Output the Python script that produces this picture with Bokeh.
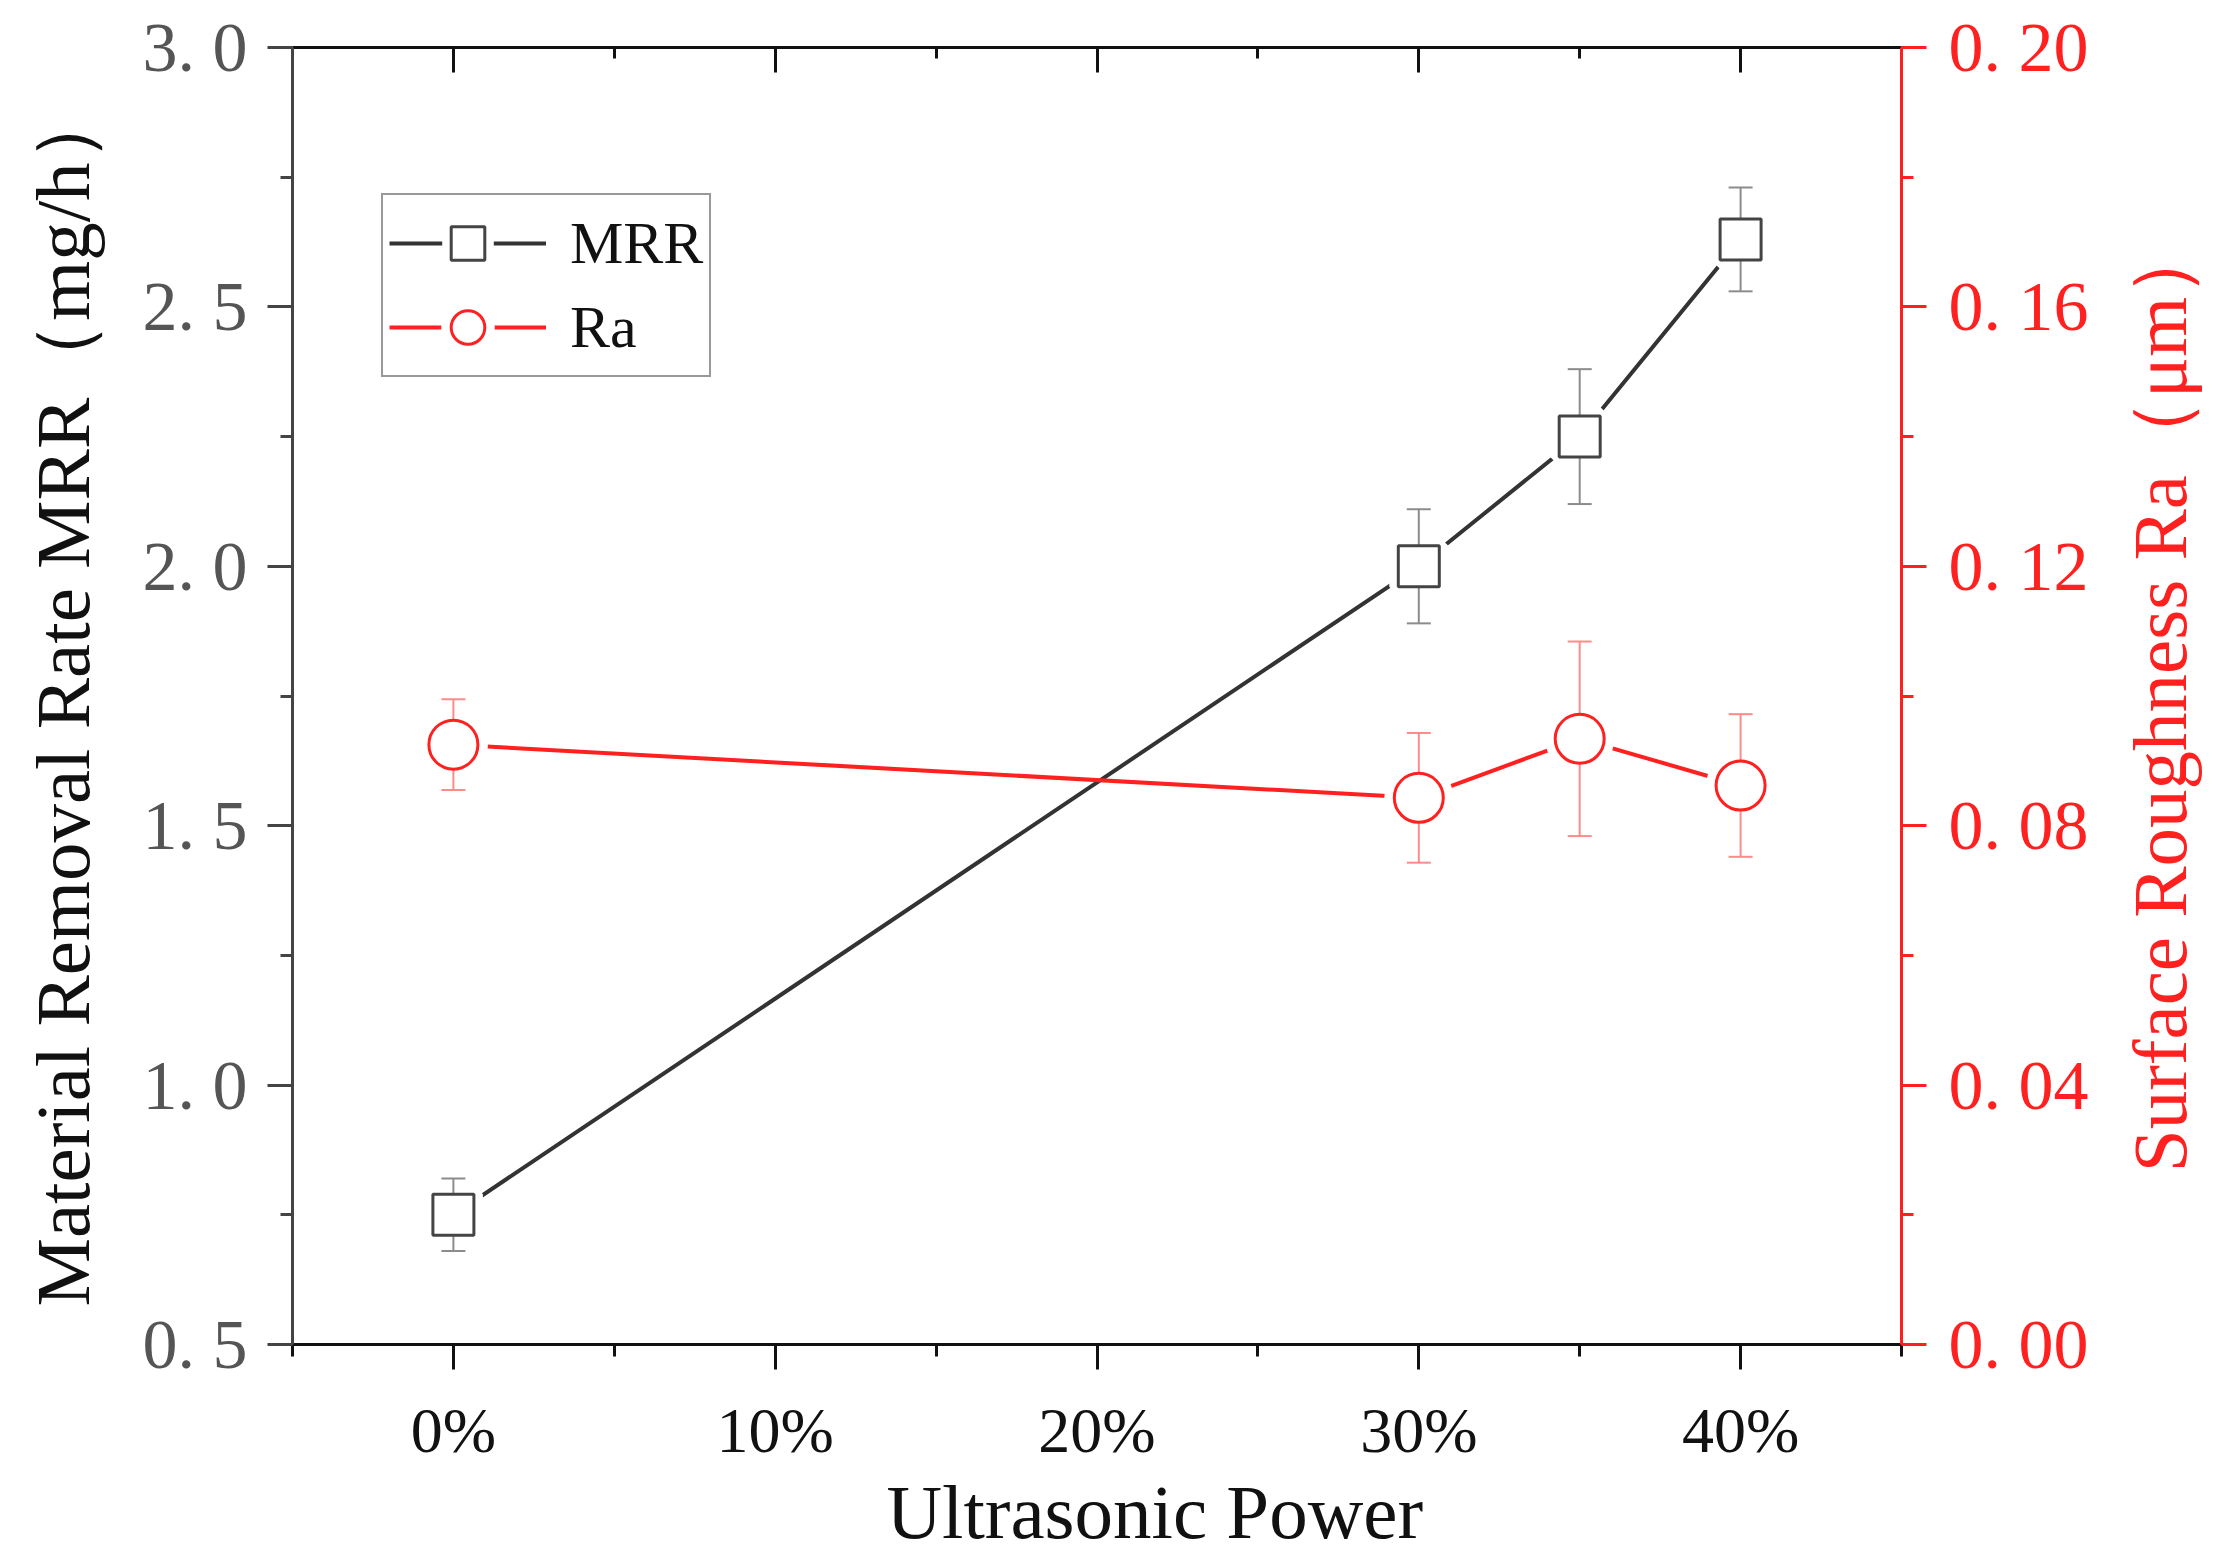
import math
from bokeh.plotting import figure
from bokeh.layouts import row
from bokeh.models import Range1d, LinearAxis, FixedTicker, Legend, LegendItem
from bokeh.core.properties import value
from bokeh.embed import file_html
from bokeh.resources import INLINE

# ---- data ----
power = [0, 30, 35, 40]                      # ultrasonic power, %
mrr = [0.75, 2.00, 2.25, 2.63]               # mg/h
mrr_err = [0.07, 0.11, 0.13, 0.10]
ra = [0.0925, 0.0843, 0.0934, 0.0862]        # um
ra_err = [0.007, 0.010, 0.015, 0.011]

x_ticks = [0, 10, 20, 30, 40]
x_tick_labels = ["0%", "10%", "20%", "30%", "40%"]
x_minor = [-5, 5, 15, 25, 35, 45]
mrr_ticks = [0.5, 1.0, 1.5, 2.0, 2.5, 3.0]
mrr_tick_labels = ["0. 5", "1. 0", "1. 5", "2. 0", "2. 5", "3. 0"]
mrr_minor = [0.75, 1.25, 1.75, 2.25, 2.75]
ra_ticks = [0.0, 0.04, 0.08, 0.12, 0.16, 0.2]
ra_tick_labels = ["0. 00", "0. 04", "0. 08", "0. 12", "0. 16", "0. 20"]
ra_minor = [0.02, 0.06, 0.10, 0.14, 0.18]

x_title = "Ultrasonic Power"
mrr_title = "Material Removal Rate MRR（mg/h）"
ra_title = "Surface Roughness Ra（μm）"

mrr_lo = [v - e for v, e in zip(mrr, mrr_err)]
mrr_hi = [v + e for v, e in zip(mrr, mrr_err)]
ra_lo = [v - e for v, e in zip(ra, ra_err)]
ra_hi = [v + e for v, e in zip(ra, ra_err)]

FONT = "Liberation Serif"
RED = "#ff2020"
H = 1560
W1, W2 = 2110, 98     # main figure; narrow strip holding the right-hand title
LEFT, TOP, RIGHT_EDGE, BOTTOM_EDGE = 292, 47, 1901, 1344

p = figure(width=W1, height=H, x_range=Range1d(-5, 45), y_range=Range1d(0.5, 3.0),
           output_backend="svg", toolbar_location=None,
           x_axis_location=None, y_axis_location=None,
           min_border_left=LEFT, min_border_right=W1 - RIGHT_EDGE,
           min_border_top=TOP, min_border_bottom=H - BOTTOM_EDGE)
p.extra_y_ranges = {"ra": Range1d(0, 0.2)}
p.grid.grid_line_color = None
p.outline_line_color = None
p.background_fill_color = "white"
p.border_fill_color = "white"


def style(ax, color, lab_color, inward=False, size="70px"):
    ax.axis_line_color = color
    ax.axis_line_width = 3
    ax.major_tick_line_color = color
    ax.minor_tick_line_color = color
    ax.major_tick_line_width = 3
    ax.minor_tick_line_width = 3
    if inward:
        ax.major_tick_in, ax.major_tick_out = 25, 0
        ax.minor_tick_in, ax.minor_tick_out = 11, 0
    else:
        ax.major_tick_in, ax.major_tick_out = 0, 25
        ax.minor_tick_in, ax.minor_tick_out = 0, 12
    ax.major_label_text_font = FONT
    ax.major_label_text_font_size = size
    ax.major_label_text_color = lab_color
    ax.axis_label_text_font = FONT
    ax.axis_label_text_font_size = "77px"
    ax.axis_label_text_font_style = "normal"


xb = LinearAxis(ticker=FixedTicker(ticks=x_ticks, minor_ticks=x_minor),
                axis_label="\u00a0" * 6 + x_title)
xb.major_label_overrides = dict(zip(x_ticks, x_tick_labels))
style(xb, "#111111", "#111111", size="64px")
xb.major_label_standoff = 25
xb.axis_label_standoff = 0
xb.axis_label_text_color = "#111111"
p.add_layout(xb, "below")

xt = LinearAxis(ticker=FixedTicker(ticks=x_ticks, minor_ticks=x_minor))
style(xt, "#111111", None, inward=True, size="1px")
xt.major_label_standoff = 0
p.add_layout(xt, "above")

yl = LinearAxis(ticker=FixedTicker(ticks=mrr_ticks, minor_ticks=mrr_minor),
                axis_label=mrr_title)
yl.major_label_overrides = dict(zip(mrr_ticks, mrr_tick_labels))
style(yl, "#444444", "#555555")
yl.major_label_standoff = 20
yl.axis_label_standoff = 34
yl.axis_label_text_color = "#111111"
p.add_layout(yl, "left")

yr = LinearAxis(y_range_name="ra", ticker=FixedTicker(ticks=ra_ticks, minor_ticks=ra_minor))
yr.major_label_overrides = dict(zip(ra_ticks, ra_tick_labels))
style(yr, RED, RED)
yr.major_label_standoff = 22
p.add_layout(yr, "right")

# ---- MRR series (white halo leaves the small gap between line and marker) ----
l1 = p.line(power, mrr, line_color="#333333", line_width=4)
h1 = p.scatter(power, mrr, marker="square", size=41, fill_color="white",
               line_color="white", line_width=18)
p.segment(power, mrr_lo, power, mrr_hi, line_color="#8c8c8c", line_width=2)
p.scatter(power, mrr_lo, marker="dash", size=24, line_color="#8c8c8c", line_width=2)
p.scatter(power, mrr_hi, marker="dash", size=24, line_color="#8c8c8c", line_width=2)
m1 = p.scatter(power, mrr, marker="square", size=41, fill_color="white",
               line_color="#444444", line_width=3)

# ---- Ra series ----
l2 = p.line(power, ra, line_color=RED, line_width=4, y_range_name="ra")
h2 = p.scatter(power, ra, marker="circle", size=49, fill_color="white",
               line_color="white", line_width=20, y_range_name="ra")
p.segment(power, ra_lo, power, ra_hi, line_color="#ff8a8a", line_width=2, y_range_name="ra")
p.scatter(power, ra_lo, marker="dash", size=24, line_color="#ff8a8a", line_width=2,
          y_range_name="ra")
p.scatter(power, ra_hi, marker="dash", size=24, line_color="#ff8a8a", line_width=2,
          y_range_name="ra")
m2 = p.scatter(power, ra, marker="circle", size=49, fill_color="white",
               line_color=RED, line_width=3, y_range_name="ra")

legend = Legend(items=[LegendItem(label="MRR", renderers=[l1, h1, m1]),
                       LegendItem(label="Ra", renderers=[l2, h2, m2])],
                location=(89, 967))
legend.glyph_width = 157
legend.glyph_height = 84
legend.label_height = 84
legend.spacing = 0
legend.padding = 6
legend.margin = 0
legend.label_standoff = 24
legend.label_text_font = FONT
legend.label_text_font_size = "60px"
legend.label_text_color = "#111111"
legend.border_line_color = "#333333"
legend.border_line_width = 2
legend.background_fill_color = "white"
legend.background_fill_alpha = 1.0
p.add_layout(legend)

# ---- right-hand title, reading bottom-to-top like the reference ----
p2 = figure(width=W2, height=H, x_range=Range1d(0, 1), y_range=Range1d(0, 0.2),
            output_backend="svg", toolbar_location=None,
            x_axis_location=None, y_axis_location=None,
            min_border_left=0, min_border_right=0,
            min_border_top=TOP, min_border_bottom=H - BOTTOM_EDGE)
p2.grid.grid_line_color = None
p2.outline_line_color = None
p2.background_fill_color = "white"
p2.border_fill_color = "white"
p2.text(x=[0.5], y=[0.1], text=[ra_title], angle=math.pi / 2,
        text_align="center", text_baseline="middle", text_font=value(FONT),
        text_font_size="77px", text_color=RED)

layout = row(p, p2)
open("out.html", "w").write(file_html(layout, INLINE))
